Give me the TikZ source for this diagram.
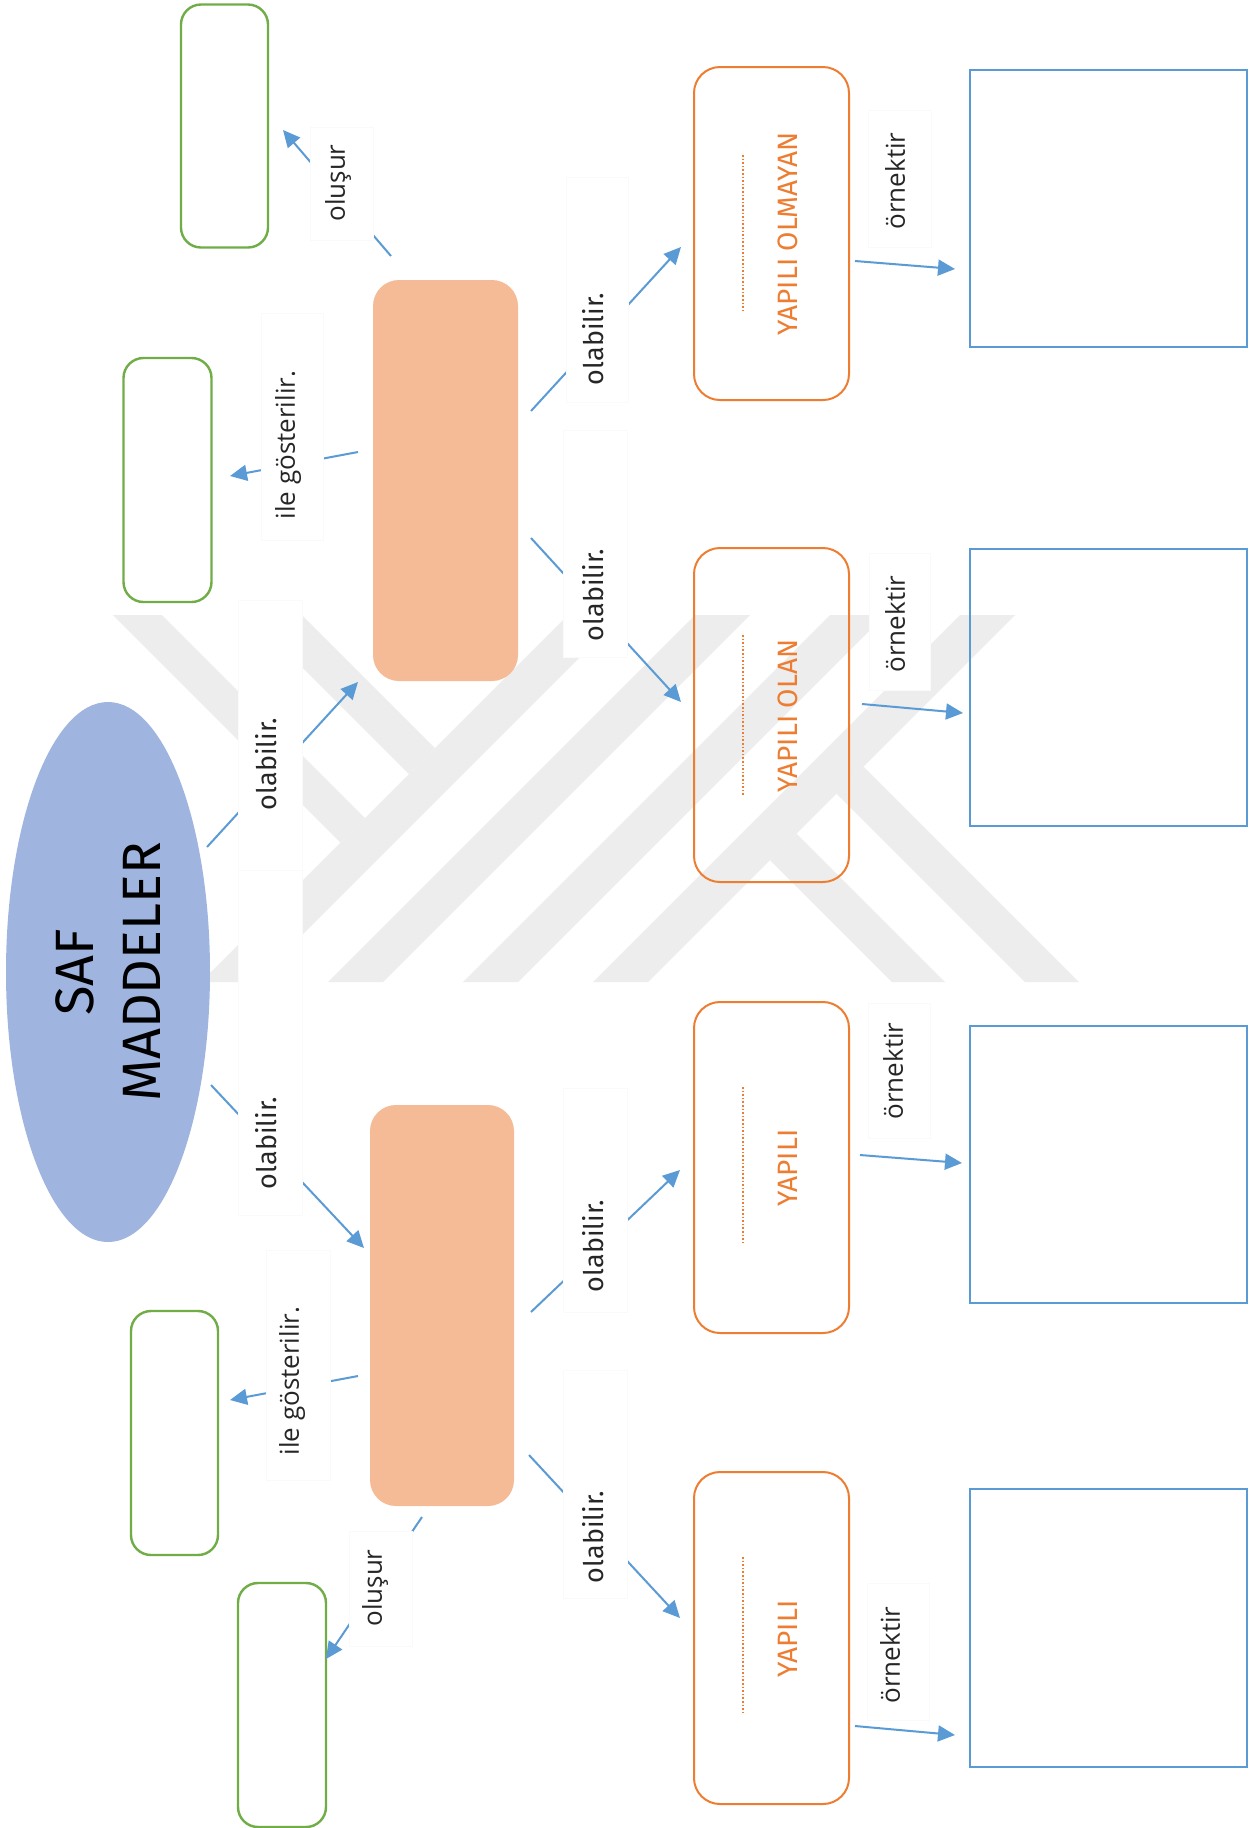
\documentclass[tikz,border=0pt]{standalone}
\usepackage{fontspec}
\usetikzlibrary{shapes.geometric,arrows.meta}
\newfontfamily\dinf{Fira Sans}
\newfontfamily\segf{Open Sans}
\definecolor{ellfill}{HTML}{9FB5DF}
\definecolor{orfill}{HTML}{F4BB96}
\definecolor{orline}{HTML}{ED7D31}
\definecolor{grline}{HTML}{70AD47}
\definecolor{blline}{HTML}{5B9BD5}
\definecolor{arr}{HTML}{5B9BD5}
\definecolor{wm}{HTML}{EDEDED}
\definecolor{lblc}{HTML}{262626}
\tikzset{
 sz/.style 2 args={minimum width=#1*0.5pt,minimum height=#2*0.5pt},
 wmark/.style={fill=wm, draw=none},
 conn/.style={draw=arr, line width=1pt, -{Triangle[length=8.5pt,width=8pt]}},
 lblbox/.style={fill=white, draw=black!2, line width=0.4pt, inner sep=0},
 dintext/.style={rotate=90, inner sep=0, text=lblc, font=\dinf\fontsize{13.5}{16}\selectfont},
 segtext/.style={rotate=90, inner sep=0, text=lblc, font=\segf\fontsize{13}{16}\selectfont},
 greenbox/.style={draw=grline, line width=1.2pt, rounded corners=10pt, fill=white, inner sep=0},
 orfilled/.style={fill=orfill, rounded corners=13pt, inner sep=0},
 oroutline/.style={draw=orline, line width=1pt, rounded corners=13pt, inner sep=0},
 bluebox/.style={draw=blline, line width=1pt, inner sep=0},
 ortext/.style={rotate=90, inner sep=0, text=orline, font=\dinf\fontsize{14}{16}\selectfont},
 blankline/.style={draw=orline, line width=0.8pt, dash pattern=on 0.8pt off 1pt},
}
\begin{document}
\begin{tikzpicture}[x=0.5pt,y=-0.5pt]
\useasboundingbox (0,0) rectangle (1255,1828);
\fill[white] (0,0) rectangle (1255,1828);
% watermark
\fill[wmark] (568,615) -- (622,615) -- (255,982) -- (201,982) -- cycle;
\fill[wmark] (695,615) -- (750,615) -- (383,982) -- (328,982) -- cycle;
\fill[wmark] (830,615) -- (885,615) -- (518,982) -- (463,982) -- cycle;
\fill[wmark] (960,615) -- (1015,615) -- (648,982) -- (593,982) -- cycle;
\fill[wmark] (113,615) -- (162,615) -- (365,818) -- (340.5,842.5) -- cycle;
\fill[wmark] (250,615) -- (302,615) -- (435,748) -- (409,774) -- cycle;
\fill[wmark] (770,860) -- (796.5,833.5) -- (945,982) -- (892,982) -- cycle;
\fill[wmark] (836.5,793.5) -- (863.5,766.5) -- (1079,982) -- (1025,982) -- cycle;

% main nodes
\node[ellipse, fill=ellfill, rotate=90, sz={540}{204}, inner sep=0, align=center,
      font=\dinf\fontsize{27}{33.5}\selectfont] (saf) at (108,972) {SAF\\MADDELER};
\node[orfilled, sz={145}{401}] (top) at (445.5,480.5) {};
\node[orfilled, sz={144}{401}] (bot) at (442,1305.5) {};

\node[greenbox, sz={87}{243}] (g1) at (224.5,126) {};
\node[greenbox, sz={88}{244}] (g2) at (167.5,480) {};
\node[greenbox, sz={87}{244}] (g3) at (174.5,1433) {};
\node[greenbox, sz={88}{244}] (g4) at (282,1705) {};

\node[oroutline, sz={155}{333}] (o1) at (771.5,233.5) {};
\node[oroutline, sz={155}{334}] (o2) at (771.5,715) {};
\node[oroutline, sz={155}{331}] (o3) at (771.5,1167.5) {};
\node[oroutline, sz={155}{332}] (o4) at (771.5,1638) {};

\node[ortext] (o1t) at (788,234) {YAPILI OLMAYAN};
\node[ortext] (o2t) at (788,716) {YAPILI OLAN};
\node[ortext] (o3t) at (788,1168) {YAPILI};
\node[ortext] (o4t) at (788,1639) {YAPILI};
\draw[blankline] (743,155) -- (743,313);
\draw[blankline] (743,635) -- (743,795);
\draw[blankline] (743,1087) -- (743,1245);
\draw[blankline] (743,1557) -- (743,1715);

\node[bluebox, sz={277}{277}] (b1) at (1108.5,208.5) {};
\node[bluebox, sz={277}{277}] (b2) at (1108.5,687.5) {};
\node[bluebox, sz={277}{277}] (b3) at (1108.5,1164.5) {};
\node[bluebox, sz={277}{278}] (b4) at (1108.5,1628) {};

% connector ends
\coordinate (ca1) at (207,847);  \coordinate (ca2) at (358,682);
\coordinate (cb1) at (211,1085); \coordinate (cb2) at (364,1248);
\coordinate (cc1) at (391,256);  \coordinate (cc2) at (283,130);
\coordinate (cd1) at (358,452);  \coordinate (cd2) at (230,476);
\coordinate (ce1) at (531,411);  \coordinate (ce2) at (681,247);
\coordinate (cf1) at (531,538);  \coordinate (cf2) at (681,702);
\coordinate (cg1) at (531,1312); \coordinate (cg2) at (680,1170);
\coordinate (ch1) at (529,1455); \coordinate (ch2) at (680,1618);
\coordinate (ci1) at (358,1376); \coordinate (ci2) at (230,1400);
\coordinate (cj1) at (422,1517); \coordinate (cj2) at (326,1659);
\coordinate (ck1) at (855,261);  \coordinate (ck2) at (955,269);
\coordinate (cl1) at (862,704);  \coordinate (cl2) at (963,713);
\coordinate (cm1) at (860,1155); \coordinate (cm2) at (962,1163);
\coordinate (cn1) at (855,1726); \coordinate (cn2) at (955,1735);

\draw[conn] (ca1) -- (ca2);
\draw[conn] (cb1) -- (cb2);
\draw[conn] (cc1) -- (cc2);
\draw[conn] (cd1) -- (cd2);
\draw[conn] (ce1) -- (ce2);
\draw[conn] (cf1) -- (cf2);
\draw[conn] (cg1) -- (cg2);
\draw[conn] (ch1) -- (ch2);
\draw[conn] (ci1) -- (ci2);
\draw[conn] (cj1) -- (cj2);
\draw[conn] (ck1) -- (ck2);
\draw[conn] (cl1) -- (cl2);
\draw[conn] (cm1) -- (cm2);
\draw[conn] (cn1) -- (cn2);

% label boxes
\node[lblbox, sz={64}{270}] (la) at (270,735) {};
\node[lblbox, sz={64}{345}] (lb) at (270,1042.5) {};
\node[lblbox, sz={63}{113}] (lc) at (341.5,183.5) {};
\node[lblbox, sz={62}{227}] (ld) at (292,426.5) {};
\node[lblbox, sz={62}{225}] (le) at (597,289.5) {};
\node[lblbox, sz={64}{227}] (lf) at (595,543.5) {};
\node[lblbox, sz={64}{224}] (lg) at (595,1200) {};
\node[lblbox, sz={64}{228}] (lh) at (595,1484) {};
\node[lblbox, sz={64}{230}] (li) at (298,1365) {};
\node[lblbox, sz={63}{115}] (lj) at (380.5,1588.5) {};
\node[lblbox, sz={63}{137}] (lk) at (899.5,178.5) {};
\node[lblbox, sz={61}{137}] (ll) at (899.5,621.5) {};
\node[lblbox, sz={62}{135}] (lm) at (899,1070.5) {};
\node[lblbox, sz={62}{137}] (ln) at (898,1651.5) {};

% label texts
\node[dintext] (ta) at (266,764) {olabilir.};
\node[dintext] (tb) at (266,1143) {olabilir.};
\node[segtext] (tc) at (338,183) {oluşur};
\node[segtext] (td) at (288,445) {ile gösterilir.};
\node[dintext] (te) at (593,339) {olabilir.};
\node[dintext] (tf) at (593,595) {olabilir.};
\node[dintext] (tg) at (593,1246) {olabilir.};
\node[dintext] (th) at (593,1537) {olabilir.};
\node[segtext] (ti) at (292,1381) {ile gösterilir.};
\node[segtext] (tj) at (375,1588) {oluşur};
\node[segtext] (tk) at (895,181) {örnektir};
\node[segtext] (tl) at (895,624) {örnektir};
\node[segtext] (tm) at (893,1071) {örnektir};
\node[segtext] (tn) at (890,1655) {örnektir};
\end{tikzpicture}
\end{document}
